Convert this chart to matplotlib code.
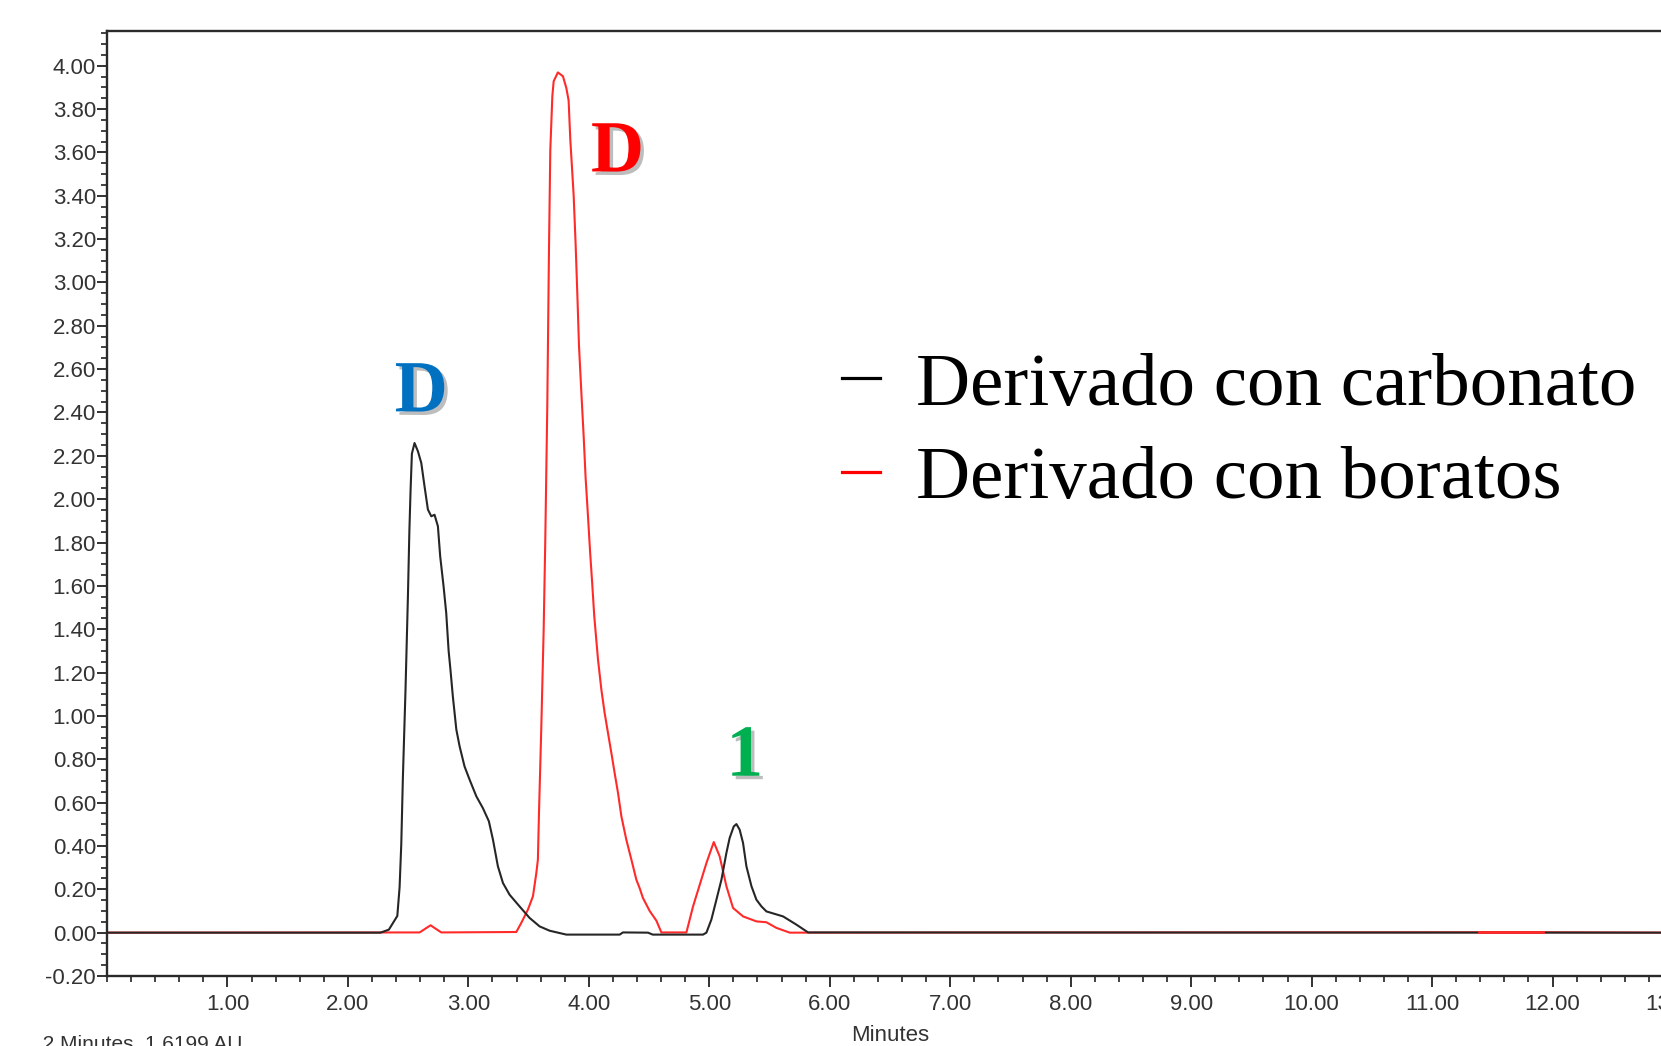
import matplotlib
matplotlib.use('Agg')
import numpy as np
import matplotlib.pyplot as plt
from matplotlib.lines import Line2D
from matplotlib.ticker import MultipleLocator, FormatStrFormatter
import matplotlib.patheffects as pe

plt.rcParams['font.family'] = ['Liberation Sans', 'DejaVu Sans']

# ---- data ----
t_carbonato = [0.00, 2.27, 2.34, 2.41, 2.429, 2.443, 2.456, 2.478, 2.498, 2.510, 2.520, 2.531,
               2.553, 2.581, 2.609, 2.636, 2.664, 2.692, 2.719, 2.747, 2.766, 2.794, 2.816,
               2.836, 2.850, 2.871, 2.900, 2.927, 2.968, 3.010, 3.066, 3.120, 3.170, 3.204,
               3.245, 3.287, 3.342, 3.425, 3.508, 3.591, 3.674, 3.813, 4.256, 4.283, 4.491,
               4.530, 4.948, 4.976, 5.017, 5.059, 5.101, 5.142, 5.169, 5.203, 5.225, 5.252,
               5.280, 5.308, 5.350, 5.391, 5.433, 5.474, 5.612, 5.723, 5.820, 13.0]
au_carbonato = [0.0, 0.0, 0.014, 0.077, 0.21, 0.41, 0.71, 1.12, 1.55, 1.85, 2.04, 2.21,
                2.259, 2.221, 2.167, 2.059, 1.952, 1.921, 1.928, 1.875, 1.736, 1.598, 1.475,
                1.30, 1.22, 1.09, 0.937, 0.86, 0.767, 0.706, 0.629, 0.575, 0.514, 0.429,
                0.306, 0.229, 0.175, 0.121, 0.068, 0.029, 0.009, -0.009, -0.009, 0.001, 0.0,
                -0.009, -0.009, 0.0, 0.06, 0.152, 0.245, 0.368, 0.437, 0.49, 0.501, 0.475,
                0.414, 0.306, 0.214, 0.152, 0.121, 0.098, 0.075, 0.037, 0.001, 0.0]

t_boratos = [0.00, 2.595, 2.686, 2.775, 3.398, 3.439, 3.494, 3.536, 3.564, 3.577, 3.586,
             3.605, 3.625, 3.638, 3.655, 3.669, 3.680, 3.697, 3.708, 3.743, 3.785, 3.813,
             3.832, 3.846, 3.874, 3.890, 3.906, 3.918, 3.938, 3.957, 3.973, 3.993, 4.010,
             4.028, 4.045, 4.062, 4.076, 4.104, 4.131, 4.159, 4.187, 4.214, 4.242, 4.270,
             4.311, 4.353, 4.394, 4.422, 4.449, 4.505, 4.561, 4.602, 4.810, 4.865, 4.976,
             5.037, 5.086, 5.142, 5.197, 5.280, 5.391, 5.474, 5.557, 5.668, 11.39, 11.92, 13.0]
au_boratos = [0.0, 0.001, 0.034, 0.001, 0.003, 0.045, 0.106, 0.168, 0.275, 0.337, 0.55,
              0.94, 1.40, 1.80, 2.43, 3.15, 3.61, 3.86, 3.928, 3.969, 3.951, 3.897,
              3.84, 3.66, 3.40, 3.18, 2.92, 2.71, 2.49, 2.29, 2.10, 1.92, 1.76,
              1.61, 1.46, 1.35, 1.26, 1.121, 1.014, 0.921, 0.829, 0.737, 0.645, 0.537,
              0.429, 0.337, 0.245, 0.205, 0.160, 0.100, 0.055, 0.001, 0.001, 0.121, 0.321,
              0.418, 0.352, 0.214, 0.114, 0.075, 0.052, 0.048, 0.022, 0.0, 0.002, 0.002, 0.0]

series_labels = ['Derivado con carbonato', 'Derivado con boratos']
peak_labels = ['D', 'D', '1']
peak_label_pos = [(2.609, 2.405), (4.238, 3.512), (5.294, 0.724)]
peak_label_colors = ['#0070C0', '#FF0000', '#00B050']
visible_red_window = (11.39, 11.92)

W, H = 1661, 1046
fig = plt.figure(figsize=(W / 100, H / 100), dpi=100)
ax = fig.add_axes([107 / W, 70 / H, (1673 - 107) / W, (976 - 31) / H])

BLACK = '#262626'
RED = '#FF2A2A'

ax.plot(t_boratos, au_boratos, color=RED, lw=1.5, zorder=2)
ax.plot(t_carbonato, au_carbonato, color=BLACK, lw=1.5, zorder=3)
tb = np.array(t_boratos)
ab = np.array(au_boratos)
m = (tb >= visible_red_window[0]) & (tb <= visible_red_window[1])
ax.plot(tb[m], ab[m], color=RED, lw=2.0, zorder=4)

ax.set_xlim(0, 13.0)
ax.set_ylim(-0.2, 4.16)
ax.xaxis.set_major_locator(MultipleLocator(1.0))
ax.xaxis.set_minor_locator(MultipleLocator(0.2))
ax.yaxis.set_major_locator(MultipleLocator(0.2))
ax.yaxis.set_minor_locator(MultipleLocator(0.05))
ax.xaxis.set_major_formatter(FormatStrFormatter('%.2f'))
ax.yaxis.set_major_formatter(FormatStrFormatter('%.2f'))
ax.set_xticks([v for v in np.arange(1, 14, 1.0)])
ax.tick_params(which='major', direction='out', length=7, width=1.3, labelsize=16,
               pad=1, colors='#222222', labelcolor='#333333')
ax.tick_params(which='minor', direction='out', length=4, width=1.2, colors='#222222')
ax.tick_params(axis='x', which='major', length=8, pad=5)

for s in ['left', 'top', 'bottom']:
    ax.spines[s].set_linewidth(1.7)
    ax.spines[s].set_color('#2a2a2a')
ax.spines['right'].set_visible(False)

ax.set_xlabel('Minutes', fontsize=16, labelpad=7, color='#333333')

# peak labels
for lab, (px, py), c in zip(peak_labels, peak_label_pos, peak_label_colors):
    ax.text(px, py, lab, color=c, fontsize=53, fontweight='bold', family='Liberation Serif',
            ha='center', va='baseline', zorder=5,
            path_effects=[pe.SimplePatchShadow(offset=(2.5, -2.5), shadow_rgbFace='#888888', alpha=0.55),
                          pe.Normal()])

# legend
handles = [Line2D([], [], color='black', lw=2.3), Line2D([], [], color='red', lw=2.3)]
leg = ax.legend(handles, series_labels, loc='upper left',
                bbox_to_anchor=(842 / W, 1 - 352 / H), bbox_transform=fig.transFigure,
                frameon=False, prop={'family': 'Liberation Serif', 'size': 54},
                handlelength=0.5, handletextpad=0.49, borderpad=0, borderaxespad=0,
                labelspacing=0.33)

fig.text(37 / W, -3 / H, '.2 Minutes, 1.6199 AU', fontsize=15, va='baseline', color='#333333')

fig.savefig('out.png', dpi=100)
